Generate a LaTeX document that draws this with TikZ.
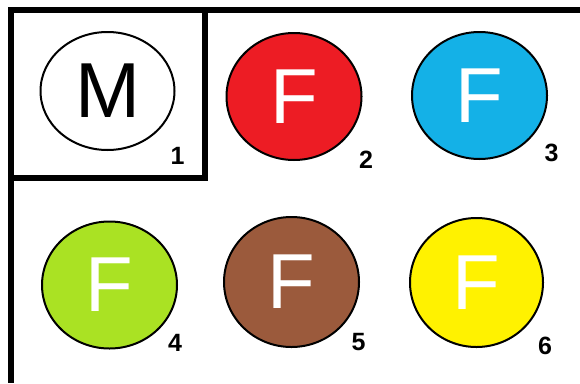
\documentclass[tikz,border=0pt]{standalone}
\usepackage{fontspec}
\setmainfont{Liberation Sans}
\usetikzlibrary{shapes.geometric}
\definecolor{cred}{HTML}{ED1C24}
\definecolor{cblue}{HTML}{14B1E7}
\definecolor{cgreen}{HTML}{AAE223}
\definecolor{cbrown}{HTML}{9B5A3C}
\definecolor{cyellow}{HTML}{FFF200}
\tikzset{
  disc/.style={ellipse, draw=black, line width=2pt, inner sep=0pt,
    minimum width=135pt, minimum height=127pt,
    font=\fontsize{78}{78}\selectfont, text=white},
  num/.style={font=\bfseries\fontsize{25}{25}\selectfont, inner sep=0pt},
  frame/.style={line width=6pt, draw=black}
}
\begin{document}
\begin{tikzpicture}[x=1pt,y=-1pt]
\useasboundingbox (0,0) rectangle (580,383);
\fill[white] (0,0) rectangle (580,383);
% frame
\draw[frame] (580,10) -- (11,10) -- (11,383);
\draw[frame] (11,178) -- (205,178) -- (205,10);
% discs
\node[disc, fill=white, text=black, minimum width=134pt, minimum height=118pt] (c1) at (107.5,91) {M};
\node[disc, fill=cred] (c2) at (294,96.5) {F};
\node[disc, fill=cblue] (c3) at (479.5,95.5) {F};
\node[disc, fill=cgreen] (c4) at (109.5,285) {F};
\node[disc, fill=cbrown, minimum height=130pt] (c5) at (291.5,282) {F};
\node[disc, fill=cyellow, minimum width=133pt, minimum height=129pt] (c6) at (476.5,282.5) {F};
% numbers
\node[num] (n1) at (177.5,156) {1};
\node[num] (n2) at (366,160) {2};
\node[num] (n3) at (551.5,152.5) {3};
\node[num] (n4) at (175,343) {4};
\node[num] (n5) at (358.5,342.5) {5};
\node[num] (n6) at (545,345.5) {6};
\end{tikzpicture}
\end{document}
